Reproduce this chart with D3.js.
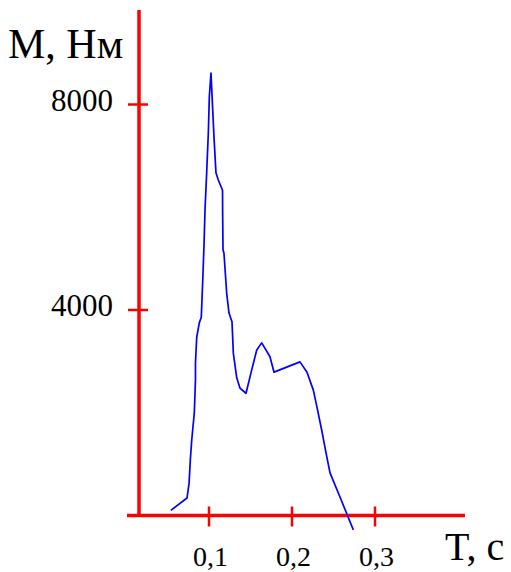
<!DOCTYPE html>
<html>
<head>
<meta charset="utf-8">
<script src="https://cdn.jsdelivr.net/npm/d3@7"></script>
<style>
  html, body { margin: 0; padding: 0; background: #fff; }
  svg { display: block; }
</style>
</head>
<body>
<div id="chart"></div>
<script>
// Torque M (N·m) against time T (s)
const timeValues = [
  0.054, 0.0735, 0.076, 0.0775, 0.0792, 0.0823, 0.0837, 0.0837, 0.0852, 0.0883,
  0.0907, 0.0924, 0.094, 0.0952, 0.0972, 0.0992, 0.1004, 0.1024, 0.1045, 0.106,
  0.1084, 0.1112, 0.1163, 0.1164, 0.1169, 0.118, 0.1213, 0.1241, 0.1277, 0.1293,
  0.1334, 0.1373, 0.1446, 0.1514, 0.1575, 0.1635, 0.1735, 0.1783, 0.2096, 0.2181,
  0.2257, 0.2301, 0.2358, 0.241, 0.2458, 0.2578, 0.2666, 0.2739
];
const torqueValues = [
  100, 340, 630, 1080, 1470, 2000, 2640, 2970, 3470, 3750,
  3860, 4550, 5270, 5950, 6670, 7450, 8150, 8610, 7890, 7370,
  6670, 6530, 6330, 5950, 5170, 5110, 4330, 3940, 3770, 3160,
  2680, 2480, 2380, 2830, 3220, 3360, 3090, 2790, 2990, 2790,
  2440, 2110, 1660, 1220, 830, 360, 10, -280
];

const xTicks = [0.1, 0.2, 0.3];
const xTickLabels = ['0,1', '0,2', '0,3'];
const yTicks = [4000, 8000];
const yTickLabels = ['4000', '8000'];

const W = 511, H = 572;
const AXIS_RED = '#ff0000';
const LINE_BLUE = '#0000ff';

const svg = d3.select('#chart').append('svg')
  .attr('width', W).attr('height', H)
  .attr('viewBox', `0 0 ${W} ${H}`);

// scales: 0.1 s per 83 px, 4000 N·m per 205.5 px
const x = d3.scaleLinear().domain([0, 0.3]).range([126, 375]);
const y = d3.scaleLinear().domain([0, 8000]).range([515.5, 104.5]);

const originX = 139;          // vertical axis position
const originY = y(0);
const axisRight = 465;
const axisTop = 10;

// axes
svg.append('line')
  .attr('x1', originX - 12).attr('x2', axisRight)
  .attr('y1', originY).attr('y2', originY)
  .attr('stroke', AXIS_RED).attr('stroke-width', 3.5);
svg.append('line')
  .attr('x1', originX).attr('x2', originX)
  .attr('y1', axisTop).attr('y2', originY + 1.5)
  .attr('stroke', AXIS_RED).attr('stroke-width', 3.5);

// x ticks + labels
xTicks.forEach((t, i) => {
  svg.append('line')
    .attr('x1', x(t)).attr('x2', x(t))
    .attr('y1', originY - 9).attr('y2', originY + 11)
    .attr('stroke', AXIS_RED).attr('stroke-width', 2.5);
  svg.append('text')
    .attr('x', x(t) + 1.5).attr('y', 566)
    .attr('text-anchor', 'middle')
    .attr('font-family', '"Liberation Serif", "DejaVu Serif", serif')
    .attr('font-size', 28)
    .attr('fill', '#000')
    .text(xTickLabels[i]);
});

// y ticks + labels
yTicks.forEach((v, i) => {
  svg.append('line')
    .attr('x1', originX - 11).attr('x2', originX + 9)
    .attr('y1', y(v)).attr('y2', y(v))
    .attr('stroke', AXIS_RED).attr('stroke-width', 2.5);
  svg.append('text')
    .attr('x', 113).attr('y', y(v) + 6)
    .attr('text-anchor', 'end')
    .attr('font-family', '"Liberation Serif", "DejaVu Serif", serif')
    .attr('font-size', 31)
    .attr('fill', '#000')
    .text(yTickLabels[i]);
});

// axis titles
svg.append('text')
  .attr('x', 8).attr('y', 58)
  .attr('font-family', '"Liberation Serif", "DejaVu Serif", serif')
  .attr('font-size', 42)
  .attr('fill', '#000')
  .text('M, Нм');
svg.append('text')
  .attr('x', 445).attr('y', 560)
  .attr('font-family', '"Liberation Serif", "DejaVu Serif", serif')
  .attr('font-size', 40)
  .attr('fill', '#000')
  .text('T, c');

// torque curve
const points = timeValues.map((t, i) => [t, torqueValues[i]]);
const line = d3.line()
  .x(d => x(d[0]))
  .y(d => y(d[1]));

svg.append('path')
  .datum(points)
  .attr('d', line)
  .attr('fill', 'none')
  .attr('stroke', LINE_BLUE)
  .attr('stroke-width', 1.7)
  .attr('stroke-linejoin', 'round');
</script>
</body>
</html>
